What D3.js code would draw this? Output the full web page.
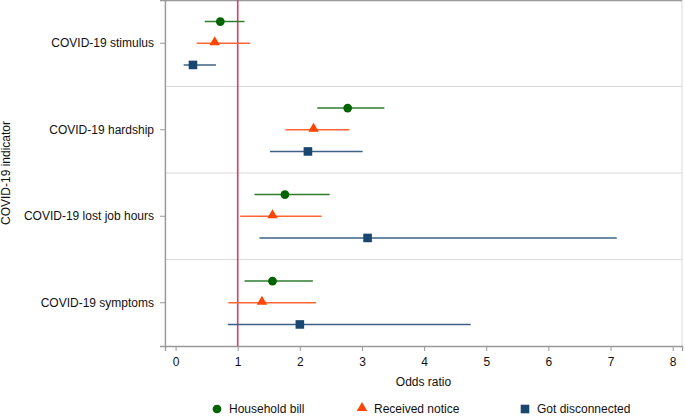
<!DOCTYPE html>
<html>
<head>
<meta charset="utf-8">
<script src="https://cdn.jsdelivr.net/npm/d3@7"></script>
<style>
  body { margin: 0; background: #fff; }
  text { font-family: "Liberation Sans", Arial, sans-serif; fill: #111; }
</style>
</head>
<body>
<div id="chart"></div>
<script>
// Data
const indicators = ["COVID-19 stimulus", "COVID-19 hardship", "COVID-19 lost job hours", "COVID-19 symptoms"];
const seriesNames = ["Household bill", "Received notice", "Got disconnected"];
const seriesColors = ["#006400", "#ff4500", "#1a476f"];
const seriesLineColors = ["#2f7d2f", "#ff6633", "#3d6285"];
const seriesShapes = [d3.symbolCircle, d3.symbolTriangle, d3.symbolSquare];

// odds ratio, lower CI, upper CI (per indicator)
const householdBill = [[0.72, 0.47, 1.11], [2.77, 2.28, 3.36], [1.76, 1.27, 2.48], [1.56, 1.11, 2.21]];
const receivedNotice = [[0.63, 0.34, 1.20], [2.22, 1.77, 2.80], [1.56, 1.04, 2.35], [1.39, 0.85, 2.26]];
const gotDisconnected = [[0.28, 0.13, 0.65], [2.13, 1.52, 3.01], [3.09, 1.35, 7.10], [2.00, 0.84, 4.75]];
const xTicks = [0, 1, 2, 3, 4, 5, 6, 7, 8];

const width = 685, height = 416;
const margin = { top: 0, right: 3, bottom: 70, left: 165 };
const plotW = width - margin.left - margin.right;
const plotH = height - margin.top - margin.bottom;

const svg = d3.select("#chart").append("svg")
    .attr("width", width)
    .attr("height", height);

const xScale = d3.scaleLinear().domain([-0.17, 8.15]).range([0, plotW]);
const yBand = d3.scaleBand().domain(indicators).range([0, plotH]);
const offset = d3.scalePoint().domain(seriesNames).range([-21.7, 21.7]);

const g = svg.append("g").attr("transform", `translate(${margin.left},${margin.top})`);

// plot region frame
g.append("rect")
    .attr("x", 0).attr("y", 0.5)
    .attr("width", plotW).attr("height", plotH)
    .attr("fill", "none")
    .attr("stroke", "#d9d9d9");
g.append("line")
    .attr("x1", 0).attr("x2", plotW)
    .attr("y1", 0.5).attr("y2", 0.5)
    .attr("stroke", "#999")
    .attr("stroke-width", 1.3);

// separators between indicator groups
g.selectAll(".sep")
    .data(indicators.slice(1))
    .join("line")
    .attr("class", "sep")
    .attr("x1", 0).attr("x2", plotW)
    .attr("y1", d => yBand(d)).attr("y2", d => yBand(d))
    .attr("stroke", "#d9d9d9")
    .attr("stroke-width", 1.2);

// x axis
const xAxis = g.append("g")
    .attr("transform", `translate(0,${plotH})`)
    .call(d3.axisBottom(xScale).tickValues(xTicks).tickSize(5).tickPadding(6).tickFormat(d3.format("d")));
xAxis.select(".domain").attr("stroke", "#999").attr("stroke-width", 1.3);
xAxis.selectAll(".tick line").attr("stroke", "#999");
xAxis.selectAll("text").style("font-size", "12px").attr("fill", "#111");

// y axis
const yAxis = g.append("g")
    .call(d3.axisLeft(yBand).tickSize(5).tickPadding(6));
yAxis.select(".domain").attr("stroke", "#999").attr("stroke-width", 1.3);
yAxis.selectAll(".tick line").attr("stroke", "#999");
yAxis.selectAll("text").style("font-size", "12px").attr("fill", "#111");

// reference line at odds ratio 1
g.append("line")
    .attr("x1", xScale(1)).attr("x2", xScale(1))
    .attr("y1", 0).attr("y2", plotH)
    .attr("stroke", "#d63e66")
    .attr("stroke-width", 1.6);

// estimates with CIs
const allSeries = [householdBill, receivedNotice, gotDisconnected];
const symbolSizes = [60, 48, 74];
allSeries.forEach((vals, si) => {
    const rows = vals.map((v, i) => ({ cat: indicators[i], or: v[0], lo: v[1], hi: v[2] }));
    const cy = d => yBand(d.cat) + yBand.bandwidth() / 2 + offset(seriesNames[si]);

    g.selectAll(`.ci${si}`)
        .data(rows)
        .join("line")
        .attr("class", `ci${si}`)
        .attr("x1", d => xScale(d.lo)).attr("x2", d => xScale(d.hi))
        .attr("y1", cy).attr("y2", cy)
        .attr("stroke", seriesLineColors[si])
        .attr("stroke-width", 1.5);

    g.selectAll(`.pt${si}`)
        .data(rows)
        .join("path")
        .attr("class", `pt${si}`)
        .attr("d", d3.symbol().type(seriesShapes[si]).size(symbolSizes[si]))
        .attr("transform", d => `translate(${xScale(d.or)},${cy(d) + (si === 1 ? -1 : 0)})`)
        .attr("fill", seriesColors[si]);
});

// axis titles
svg.append("text")
    .attr("x", margin.left + plotW / 2)
    .attr("y", 386)
    .attr("text-anchor", "middle")
    .style("font-size", "12px")
    .text("Odds ratio");

svg.append("text")
    .attr("transform", `translate(10,${margin.top + plotH / 2}) rotate(-90)`)
    .attr("text-anchor", "middle")
    .style("font-size", "12px")
    .text("COVID-19 indicator");

// legend
const legendX = [217, 362, 525];
const legend = svg.selectAll(".legend")
    .data(seriesNames)
    .join("g")
    .attr("class", "legend")
    .attr("transform", (d, i) => `translate(${legendX[i]},409)`);

legend.append("path")
    .attr("d", (d, i) => d3.symbol().type(seriesShapes[i]).size(symbolSizes[i])())
    .attr("transform", (d, i) => i === 1 ? "translate(0,-1)" : null)
    .attr("fill", (d, i) => seriesColors[i]);

legend.append("text")
    .attr("x", 12)
    .attr("dy", "0.35em")
    .style("font-size", "12px")
    .text(d => d);
</script>
</body>
</html>
